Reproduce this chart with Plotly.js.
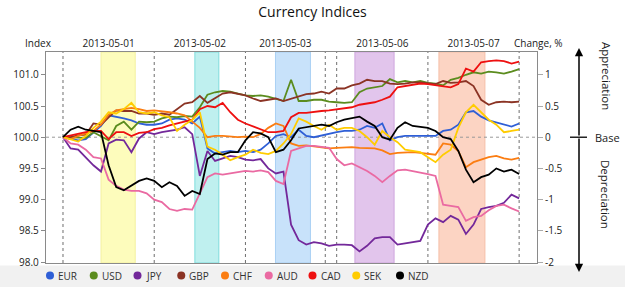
<!DOCTYPE html>
<html>
<head>
<meta charset="utf-8">
<script src="https://cdn.plot.ly/plotly-3.0.1.min.js"></script>
<style>
  html, body { margin: 0; padding: 0; background: #ffffff; }
  #chart { width: 625px; height: 287px; }
</style>
</head>
<body>
<div id="chart"></div>
<script>
// Session clock in hours (Fri session is shorter, weekend gap 69-72)
const hours = [0, 2, 4, 6, 8, 10, 12, 14, 16, 18, 20, 22, 24,
  26, 28, 30, 32, 34, 36, 38, 40, 42, 44, 46, 48,
  50, 52, 54, 56, 58, 60, 62, 64, 66, 68, 70, 72,
  74, 76, 78, 80, 82, 84, 86, 88, 90, 92, 94, 96,
  98, 100, 102, 104, 106, 108, 110, 112, 114, 116, 118, 120];

const dayBreaks = [0, 24, 48, 69, 72, 96, 120];
const dayLabels = ['2013-05-01', '2013-05-02', '2013-05-03', '2013-05-06', '2013-05-07'];
const dayCenters = [12, 36, 58.5, 84, 108];

// Highlighted event windows (hours)
const eventStart = [10, 34.7, 55.9, 76.8, 98.9];
const eventEnd = [19, 41, 65.1, 87.1, 111];

const indexTicks = [98, 98.5, 99, 99.5, 100, 100.5, 101];
const changeTicks = [-2, -1.5, -1, -0.5, 0, 0.5, 1];

const currencies = ['EUR', 'USD', 'JPY', 'GBP', 'CHF', 'AUD', 'CAD', 'SEK', 'NZD'];

const EUR = [100.00, 99.98, 99.95, 99.97, 100.07, 100.18, 100.35, 100.33, 100.30, 100.27, 100.22, 100.20, 100.20,
  100.22, 100.28, 100.30, 100.28, 100.22, 100.33, 99.82, 99.74, 99.76, 99.78, 99.76, 99.78,
  99.76, 99.80, 99.90, 100.02, 100.05, 100.00, 100.12, 100.02, 100.00, 100.03, 100.06, 100.08,
  100.10, 100.10, 100.12, 100.18, 100.15, 100.22, 99.95, 100.00, 100.02, 100.02, 100.01, 100.02,
  100.02, 100.10, 100.12, 100.20, 100.40, 100.42, 100.33, 100.27, 100.24, 100.20, 100.17, 100.22];

const USD = [100.00, 100.00, 100.00, 99.99, 100.08, 100.02, 99.95, 100.18, 100.25, 100.12, 100.25, 100.24, 100.25,
  100.30, 100.33, 100.32, 100.34, 100.33, 100.48, 100.68, 100.72, 100.74, 100.73, 100.70, 100.67,
  100.66, 100.67, 100.65, 100.62, 100.58, 100.92, 100.58, 100.58, 100.60, 100.60, 100.57, 100.56,
  100.55, 100.56, 100.72, 100.78, 100.80, 100.82, 100.93, 100.88, 100.90, 100.88, 100.90, 100.87,
  100.86, 100.83, 100.92, 100.95, 101.00, 101.04, 101.02, 101.05, 101.04, 101.02, 101.05, 101.09];

const JPY = [100.00, 99.82, 99.80, 99.68, 99.55, 99.45, 99.90, 99.96, 99.95, 99.76, 99.98, 100.08, 100.05,
  100.08, 100.10, 100.12, 100.16, 100.05, 99.38, 99.78, 99.62, 99.66, 99.70, 99.68, 99.64,
  99.63, 99.65, 99.50, 99.42, 99.45, 98.60, 98.35, 98.28, 98.32, 98.30, 98.26, 98.28,
  98.28, 98.27, 98.17, 98.26, 98.38, 98.40, 98.40, 98.28, 98.30, 98.32, 98.34, 98.60,
  98.70, 98.64, 98.74, 98.68, 98.45, 98.60, 98.85, 98.88, 98.90, 98.95, 99.08, 99.02];

const GBP = [100.00, 100.00, 100.03, 100.04, 100.22, 100.20, 100.32, 100.43, 100.42, 100.42, 100.38, 100.38, 100.36,
  100.38, 100.36, 100.45, 100.54, 100.56, 100.66, 100.55, 100.62, 100.70, 100.72, 100.70, 100.67,
  100.62, 100.58, 100.60, 100.62, 100.58, 100.62, 100.66, 100.69, 100.70, 100.73, 100.70, 100.78,
  100.78, 100.83, 100.86, 100.92, 100.90, 100.90, 100.86, 100.85, 100.86, 100.88, 100.88, 100.86,
  100.85, 100.90, 100.87, 100.88, 100.90, 100.82, 100.60, 100.52, 100.56, 100.57, 100.56, 100.57];

const CHF = [100.00, 99.97, 100.02, 100.06, 100.10, 100.20, 100.36, 100.43, 100.45, 100.47, 100.45, 100.42, 100.43,
  100.42, 100.40, 100.38, 100.35, 100.25, 100.15, 100.00, 100.02, 100.02, 100.01, 100.00, 100.01,
  100.00, 100.05, 100.15, 100.22, 100.18, 99.90, 99.86, 99.87, 99.85, 99.84, 99.82, 99.83,
  99.84, 99.84, 99.83, 99.82, 99.82, 99.79, 99.73, 99.75, 99.76, 99.76, 99.75, 99.73,
  99.72, 99.90, 99.88, 99.78, 99.52, 99.60, 99.64, 99.68, 99.70, 99.66, 99.64, 99.67];

const AUD = [100.00, 99.90, 99.88, 99.80, 99.68, 99.66, 99.32, 99.22, 99.16, 99.14, 99.14, 99.10, 99.00,
  98.96, 98.85, 98.82, 98.85, 98.84, 99.10, 99.36, 99.42, 99.40, 99.42, 99.44, 99.46,
  99.45, 99.47, 99.44, 99.30, 99.25, 99.78, 99.82, 99.86, 99.86, 99.85, 99.83, 99.65,
  99.55, 99.58, 99.52, 99.46, 99.38, 99.28, 99.38, 99.47, 99.48, 99.46, 99.44, 99.41,
  99.38, 98.92, 98.90, 98.88, 98.66, 98.72, 98.74, 98.83, 98.90, 98.92, 98.86, 98.81];

const CAD = [100.00, 100.03, 100.06, 100.08, 100.10, 100.10, 99.97, 100.08, 100.08, 100.02, 100.07, 100.08, 100.13,
  100.15, 100.19, 100.22, 100.24, 100.28, 100.45, 100.50, 100.48, 100.55, 100.40, 100.28, 100.22,
  100.17, 100.12, 100.08, 100.08, 100.10, 100.32, 100.39, 100.39, 100.41, 100.42, 100.43, 100.45,
  100.46, 100.48, 100.52, 100.54, 100.56, 100.60, 100.65, 100.80, 100.82, 100.84, 100.86, 100.85,
  100.83, 100.82, 100.80, 100.85, 101.10, 101.05, 101.20, 101.22, 101.23, 101.22, 101.18, 101.21];

const SEK = [100.00, 99.97, 99.93, 100.02, 100.15, 100.25, 100.40, 100.38, 100.45, 100.55, 100.40, 100.38, 100.40,
  100.35, 100.32, 100.10, 100.20, 100.28, 100.40, 99.85, 99.80, 99.72, 99.63, 99.68, 99.72,
  99.80, 99.75, 99.73, 99.78, 99.90, 100.05, 100.30, 100.25, 100.18, 100.12, 100.20, 100.12,
  100.15, 100.15, 100.10, 100.00, 99.88, 100.10, 100.00, 99.92, 99.80, 99.78, 99.76, 99.68,
  99.60, 99.72, 99.80, 100.15, 100.40, 100.52, 100.40, 100.28, 100.20, 100.08, 100.10, 100.12];

const NZD = [100.00, 100.12, 100.17, 100.12, 100.10, 100.08, 99.55, 99.20, 99.15, 99.22, 99.30, 99.34, 99.30,
  99.20, 99.28, 99.22, 99.06, 99.14, 99.09, 99.65, 99.74, 99.72, 99.76, 99.76, 99.95,
  100.08, 100.06, 100.00, 99.76, 99.80, 99.95, 100.14, 100.16, 100.17, 100.20, 100.18, 100.24,
  100.28, 100.30, 100.33, 100.25, 100.18, 100.00, 99.96, 100.15, 100.24, 100.18, 100.17, 100.15,
  100.10, 100.00, 99.97, 99.78, 99.48, 99.28, 99.36, 99.40, 99.50, 99.45, 99.48, 99.41];

const seriesValues = [EUR, USD, JPY, GBP, CHF, AUD, CAD, SEK, NZD];

// ---- styling ----
const lineColors = ['#2f5fd6', '#5b8c1e', '#73289a', '#8b3324', '#fb7d12', '#ea6aa2', '#ee1010', '#ffcc00', '#000000'];
const eventFill = ['#fdfcbc', '#bff0ef', '#c8e2fa', '#e2c5ec', '#fcd4c3'];
const eventEdge = ['#f4f0a0', '#7fdcdc', '#a9d0f4', '#cfa6dd', '#f5bfa8'];
const FONT = 'Open Sans, Noto Sans, sans-serif';

const W = 625, H = 287, ML = 46, MR = 88, MT = 52, MB = 24;
const plotW = W - ML - MR, plotH = H - MT - MB;
const px = x => (x - ML) / plotW;       // container px -> paper x
const py = y => (H - MB - y) / plotH;   // container px -> paper y

const traces = currencies.map((name, i) => ({
  type: 'scatter', mode: 'lines', name: name,
  x: hours, y: seriesValues[i],
  line: { color: lineColors[i], width: 1.8 },
  showlegend: false, hoverinfo: 'x+y+name'
}));
// carries the percent-change scale on the right axis
traces.unshift({
  type: 'scatter', mode: 'lines', x: hours, y: EUR.map(v => v - 100),
  yaxis: 'y2', line: { width: 0 }, opacity: 0, showlegend: false, hoverinfo: 'skip'
});

const shapes = [];
// white plot, light strip under the legend
shapes.push({ type: 'rect', xref: 'paper', yref: 'paper', x0: px(0), x1: px(W), y0: py(H), y1: py(265.5),
  fillcolor: '#f1f1f1', line: { width: 0 }, layer: 'below' });
eventStart.forEach((s, i) => shapes.push({
  type: 'rect', xref: 'x', yref: 'paper', x0: s, x1: eventEnd[i], y0: 0, y1: 1,
  fillcolor: eventFill[i], line: { color: eventEdge[i], width: 1 }, layer: 'below'
}));
dayBreaks.forEach(d => shapes.push({
  type: 'line', xref: 'x', yref: 'paper', x0: d, x1: d, y0: 0, y1: 1,
  line: { color: '#6e6e6e', width: 1, dash: '3px,3px' }, layer: 'below'
}));
shapes.push({ type: 'line', xref: 'paper', yref: 'y', x0: 0, x1: 1, y0: 100, y1: 100,
  line: { color: '#999999', width: 1, dash: '3px,3px' }, layer: 'below' });
// base marker on the appreciation/depreciation scale
shapes.push({ type: 'line', xref: 'paper', yref: 'y', x0: px(570), x1: px(587), y0: 100, y1: 100,
  line: { color: '#000000', width: 1.3 } });
// legend dots
currencies.forEach((c, i) => shapes.push({
  type: 'circle', xref: 'paper', yref: 'paper',
  xsizemode: 'pixel', ysizemode: 'pixel',
  xanchor: px(50 + i * 43.75), yanchor: py(275.5),
  x0: -4, x1: 4, y0: -4, y1: 4,
  fillcolor: lineColors[i], line: { width: 0 }
}));

const annotations = [];
const txt = (text, x, y, size, extra) => Object.assign({
  text: text, xref: 'paper', yref: 'paper', x: x, y: y, showarrow: false,
  xanchor: 'center', yanchor: 'middle',
  font: { family: FONT, size: size, color: '#1a1a1a' }
}, extra || {});

annotations.push(txt('Index', px(38.5), py(43), 10));
annotations.push(txt('Change, %', px(538), py(43), 10));
annotations.push(txt('Base', px(607), py(137.5), 11));
annotations.push(txt('Appreciation', px(606), py(76), 11.5, { textangle: 90 }));
annotations.push(txt('Depreciation', px(606), py(194), 11.5, { textangle: 90 }));
currencies.forEach((c, i) => annotations.push(
  txt(c, px(56 + i * 43.75), py(275.5), 10, { xanchor: 'left', font: { family: FONT, size: 10, color: '#333333' } })
));
// vertical appreciation / depreciation arrow
annotations.push({ xref: 'paper', yref: 'paper', x: px(579), y: py(48), ax: 0, ay: 89, text: '',
  showarrow: true, arrowhead: 2, arrowsize: 1.1, arrowwidth: 1.5, arrowcolor: '#000000' });
annotations.push({ xref: 'paper', yref: 'paper', x: px(579), y: py(272), ax: 0, ay: -135, text: '',
  showarrow: true, arrowhead: 2, arrowsize: 1.1, arrowwidth: 1.5, arrowcolor: '#000000' });

const axisGray = '#8a8a8a';
const layout = {
  width: W, height: H,
  margin: { l: ML, r: MR, t: MT, b: MB, pad: 0 },
  paper_bgcolor: '#ffffff', plot_bgcolor: 'rgba(0,0,0,0)',
  font: { family: FONT, size: 10, color: '#222222' },
  title: { text: 'Currency Indices', x: px(291.5), xanchor: 'center', y: 1 - 12 / H, yanchor: 'middle',
    font: { family: FONT, size: 14, color: '#111111' } },
  showlegend: false,
  xaxis: {
    range: [-4.47, 124.7], side: 'top', tickvals: dayCenters, ticktext: dayLabels,
    ticks: '', showline: true, mirror: true, linecolor: axisGray, linewidth: 1.2,
    showgrid: false, zeroline: false, tickfont: { family: FONT, size: 10, color: '#222222' }
  },
  yaxis: {
    range: [97.985, 101.365], tickvals: indexTicks, ticktext: indexTicks.map(v => v.toFixed(1)),
    ticks: 'outside', ticklen: 4, tickcolor: axisGray, showline: true, mirror: true,
    linecolor: axisGray, linewidth: 1.2, showgrid: false, zeroline: false,
    tickfont: { family: FONT, size: 10, color: '#222222' }
  },
  yaxis2: {
    overlaying: 'y', side: 'right', range: [-2.015, 1.365], tickvals: changeTicks,
    ticktext: changeTicks.map(v => String(v)), ticks: 'outside', ticklen: 5, tickcolor: '#aaaaaa',
    showline: false, showgrid: false, zeroline: false,
    tickfont: { family: FONT, size: 10, color: '#222222' }
  },
  shapes: shapes,
  annotations: annotations
};

Plotly.newPlot('chart', traces, layout, { displayModeBar: false, staticPlot: true });
</script>
</body>
</html>
